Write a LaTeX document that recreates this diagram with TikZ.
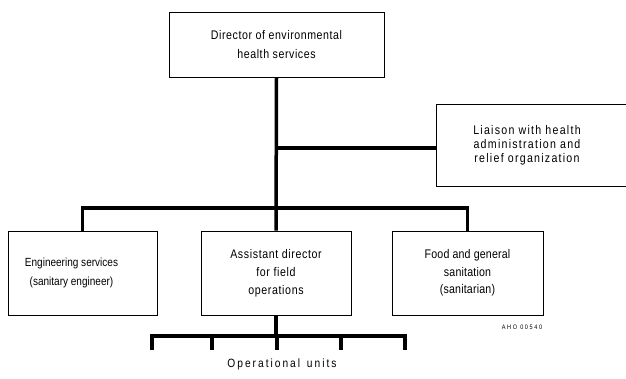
\documentclass[tikz,border=0pt]{standalone}
\usepackage{fontspec}
\setmainfont{Liberation Sans}[FakeStretch=0.85]
\newcommand{\boxfont}[3]{\fontsize{#1}{#2}\selectfont\addfontfeature{LetterSpace=#3}}
\begin{document}
\begin{tikzpicture}[x=1pt,y=-1pt,
  box/.style={draw,line width=0.8pt,align=center,inner sep=2pt},
  link/.style={line width=3.5pt}]
\useasboundingbox (0,0) rectangle (626,379);
\node (dir) at (276.5,44.5) [box,minimum width=215pt,minimum height=65pt,font=\boxfont{12.5}{19}{4.5}] {Director of environmental\\health services};
\node (liaison) at (532,145) [box,minimum width=192pt,minimum height=82pt,font=\boxfont{12.5}{14}{10}] {\hspace*{-10pt}Liaison with health\\\hspace*{-10pt}administration and\\\hspace*{-10pt}relief organization};
\node (eng) at (82.5,273) [box,minimum width=149pt,minimum height=84pt,font=\boxfont{11.8}{19}{0}] {\hspace*{-22pt}Engineering services\\\hspace*{-22pt}(sanitary engineer)};
\node (asst) at (276,273) [box,minimum width=150pt,minimum height=84pt,font=\boxfont{12.5}{18}{5}] {Assistant director\\for field\\operations};
\node (food) at (467.5,273) [box,minimum width=151pt,minimum height=84pt,font=\boxfont{12.5}{17.5}{1.5}] {Food and general\\sanitation\\(sanitarian)};
\node (ref) at (522,327) [font=\boxfont{6.5}{7}{25}] {AHO 00540};
\node (units) at (282,364) [font=\fontsize{12}{14}\selectfont] {O\,p\,e\,r\,a\,t\,i\,o\,n\,a\,l\, \,u\,n\,i\,t\,s};
\coordinate (bus) at (asst.north |- 0,208);
\coordinate (ubus) at (asst.south |- 0,336);
\coordinate (tee) at (dir.south |- 0,148);
\draw[link] (dir.south) -- (asst.north);
\draw[link] (tee) -- (tee -| liaison.west);
\draw[link] (eng.north) |- (bus) -| (food.north);
\draw[link] (asst.south) -- (ubus);
\draw[link] (152,350) |- (ubus) -| (405,350);
\foreach \x in {212,277,341}
  \draw[link] (\x,336) -- (\x,350);
\end{tikzpicture}
\end{document}
